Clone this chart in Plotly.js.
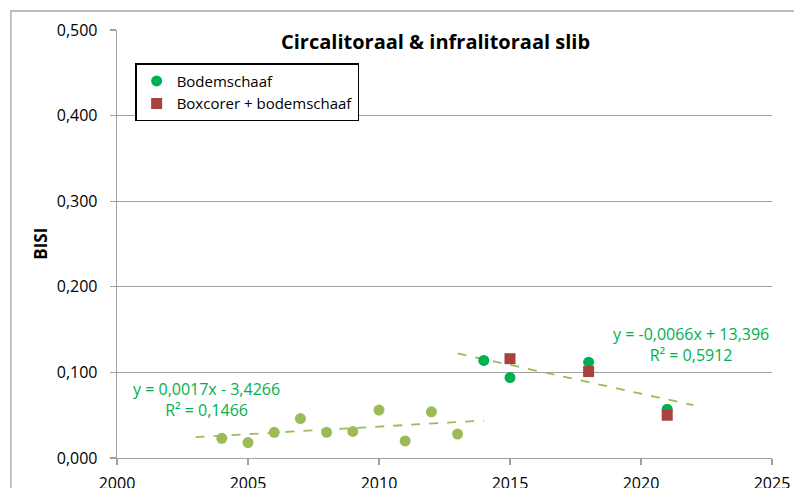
<!DOCTYPE html>
<html>
<head>
<meta charset="utf-8">
<script src="https://cdn.plot.ly/plotly-3.0.1.min.js"></script>
<style>html,body{margin:0;padding:0;background:#fff;}#chart{width:794px;height:488px;}</style>
</head>
<body>
<div id="chart"></div>
<script>
// Light green points (2004-2013), Bodemschaaf
const yearsEarly = [2004, 2005, 2006, 2007, 2008, 2009, 2010, 2011, 2012, 2013];
const bisiEarly = [0.023, 0.018, 0.030, 0.046, 0.030, 0.031, 0.056, 0.020, 0.054, 0.028];
// Bodemschaaf (recent)
const yearsBodem = [2014, 2015, 2018, 2021];
const bisiBodem = [0.114, 0.094, 0.112, 0.057];
// Boxcorer + bodemschaaf
const yearsBox = [2015, 2018, 2021];
const bisiBox = [0.116, 0.101, 0.050];
// Trend lines (endpoints as drawn)
const trend1X = [2003, 2014];
const trend1Y = [0.0243, 0.0438];
const trend2X = [2013, 2022];
const trend2Y = [0.1222, 0.0617];
const trend1Label = "y = 0,0017x - 3,4266<br>R² = 0,1466";
const trend2Label = "y = -0,0066x + 13,396<br>R² = 0,5912";
const titleText = "Circalitoraal & infralitoraal slib";
const yTitle = "BISI";
const legendNames = ["Bodemschaaf", "Boxcorer + bodemschaaf"];

const FONT = "Open Sans, sans-serif";
const lightGreen = "#9BBB59";
const darkGreen = "#00B050";
const red = "#A9413F";
const grid = "#A0A0A0";

const traces = [
  {x: trend1X, y: trend1Y, mode: "lines", line: {color: lightGreen, width: 1.8, dash: "dash"}, showlegend: false, hoverinfo: "skip"},
  {x: trend2X, y: trend2Y, mode: "lines", line: {color: lightGreen, width: 1.8, dash: "dash"}, showlegend: false, hoverinfo: "skip"},
  {x: yearsEarly, y: bisiEarly, mode: "markers", marker: {color: lightGreen, size: 11, symbol: "circle"}, showlegend: false},
  {x: yearsBodem, y: bisiBodem, name: legendNames[0], mode: "markers", marker: {color: darkGreen, size: 11, symbol: "circle"}},
  {x: yearsBox, y: bisiBox, name: legendNames[1], mode: "markers", marker: {color: red, size: 11, symbol: "square"}}
];

const layout = {
  width: 794, height: 488,
  margin: {l: 117, r: 22, t: 30, b: 30},
  paper_bgcolor: "#fff", plot_bgcolor: "#fff",
  separators: ",.",
  font: {family: FONT, size: 16, color: "#000"},
  xaxis: {
    range: [2000, 2025], tickvals: [2000, 2005, 2010, 2015, 2020, 2025], tickformat: "d",
    showgrid: false, zeroline: false, showline: true, linecolor: grid, linewidth: 1.3,
    ticks: "outside", ticklen: 6, tickcolor: grid, tickwidth: 1.3, ticklabelstandoff: 4,
    tickfont: {family: FONT, size: 16, color: "#000"}
  },
  yaxis: {
    range: [0, 0.5], tickvals: [0, 0.1, 0.2, 0.3, 0.4, 0.5], tickformat: ".3f",
    showgrid: true, gridcolor: grid, gridwidth: 1.3, zeroline: false,
    showline: true, linecolor: grid, linewidth: 1.3,
    ticks: "outside", ticklen: 6, tickcolor: grid, tickwidth: 1.3, ticklabelstandoff: 9,
    tickfont: {family: FONT, size: 16, color: "#000"}
  },
  legend: {
    x: 0.028, y: 0.922, xanchor: "left", yanchor: "top",
    bgcolor: "#fff", bordercolor: "#000", borderwidth: 1.3,
    font: {family: FONT, size: 15, color: "#000"},
    itemwidth: 30, tracegroupgap: 0
  },
  annotations: [
    {text: "<b>" + titleText.replace("&", "&amp;") + "</b>", xref: "paper", yref: "paper", x: 0.487, y: 0.972,
     xanchor: "center", yanchor: "middle",
     showarrow: false, font: {family: FONT, size: 20, color: "#000"}, bgcolor: "#fff", borderpad: 4},
    {text: "<b>" + yTitle + "</b>", xref: "paper", yref: "paper", x: -0.118, y: 0.5, textangle: -90,
     xanchor: "center", yanchor: "middle",
     showarrow: false, font: {family: FONT, size: 17, color: "#000"}},
    {text: trend1Label, xref: "x", yref: "y", x: 2003.42, y: 0.0678, showarrow: false, align: "center",
     xanchor: "center", yanchor: "middle",
     font: {family: FONT, size: 16, color: darkGreen}},
    {text: trend2Label, xref: "x", yref: "y", x: 2021.91, y: 0.133, showarrow: false, align: "center",
     xanchor: "center", yanchor: "middle",
     font: {family: FONT, size: 16, color: darkGreen}}
  ],
  shapes: [
    {type: "rect", xref: "paper", yref: "paper", x0: -0.162, x1: 1.1, y0: -0.2, y1: 1.0444,
     line: {color: "#A6A6A6", width: 1.3}, fillcolor: "rgba(0,0,0,0)", layer: "above"}
  ]
};

Plotly.newPlot("chart", traces, layout, {displayModeBar: false, staticPlot: true});
</script>
</body>
</html>
